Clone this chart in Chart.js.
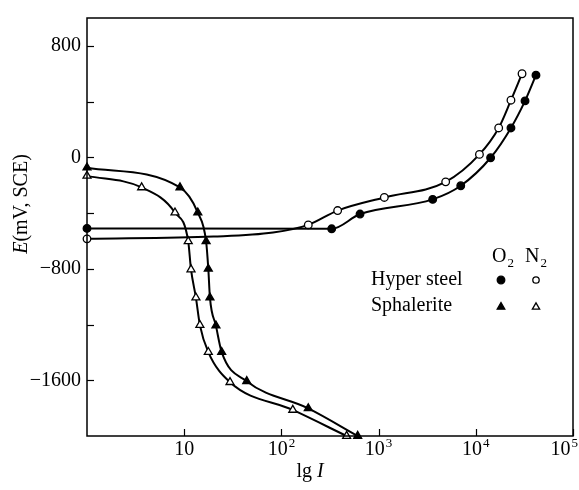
<!DOCTYPE html>
<html>
<head>
<meta charset="utf-8">
<script src="https://cdn.jsdelivr.net/npm/chart.js@4.4.1/dist/chart.umd.min.js"></script>
<style>
html,body{margin:0;padding:0;background:#fff;}
</style>
</head>
<body>
<canvas id="c" width="579" height="490"></canvas>
<script>
// axis ticks
const xTicks = [10, 100, 1000, 10000, 100000];
const yTicks = [-1600, -1200, -800, -400, 0, 400, 800];
const yLabelled = [-1600, -800, 0, 800];

// Hyper steel, O2 (filled circles)
const hyperO2I = [1, 329, 644, 3600, 7000, 14200, 23000, 32100, 41600];
const hyperO2E = [-510, -513, -407, -302, -204, -3, 211, 405, 590];

// Hyper steel, N2 (open circles); 0 = curve reading without a marker
const hyperN2I = [1, 20, 82, 189, 379, 1145, 4900, 10900, 17200, 23000, 29900];
const hyperN2E = [-585, -569, -540, -485, -382, -288, -176, 21, 211, 410, 600];
const hyperN2Measured = [1, 0, 0, 1, 1, 1, 1, 1, 1, 1, 1];

// Sphalerite, O2 (filled triangles)
const sphalO2I = [1, 9.05, 13.8, 16.8, 17.7, 18.4, 21.2, 24.3, 44, 189, 609];
const sphalO2E = [-74, -216, -397, -603, -800, -1007, -1208, -1398, -1607, -1802, -2000];

// Sphalerite, N2 (open triangles)
const sphalN2I = [1, 3.65, 8.04, 11.0, 11.75, 13.2, 14.5, 17.7, 29.6, 131, 469];
const sphalN2E = [-133, -216, -397, -603, -805, -1007, -1204, -1398, -1614, -1813, -2000];

const SERIF = '"Liberation Serif", "DejaVu Serif", serif';

function toPoints(xs, ys){
  return xs.map((x, i) => ({ x, y: ys[i] }));
}

function makeSet(label, xs, ys, style, filled, measured){
  const r = style === 'triangle' ? 4.6 : 3.8;
  return {
    label,
    data: toPoints(xs, ys),
    borderColor: '#000',
    borderWidth: 2,
    cubicInterpolationMode: 'monotone',
    pointStyle: style,
    pointRadius: ctx => (!measured || measured[ctx.dataIndex]) ? r : 0,
    pointBorderWidth: 1.3,
    pointBorderColor: '#000',
    pointBackgroundColor: filled ? '#000' : '#fff',
    clip: false
  };
}

function minus(v){
  return v < 0 ? '\u2212' + Math.abs(v) : String(v);
}

// frame, inner ticks, x labels with exponents, axis titles, legend
const decor = {
  id: 'decor',
  afterDraw(chart){
    const { ctx, chartArea: a, scales } = chart;
    const xs = scales.x, ys = scales.y;
    ctx.save();
    ctx.strokeStyle = '#000';
    ctx.fillStyle = '#000';
    ctx.lineWidth = 1.5;
    ctx.strokeRect(a.left, a.top, a.right - a.left, a.bottom - a.top);

    ctx.lineWidth = 1.2;
    yTicks.forEach(v => {
      const py = Math.round(ys.getPixelForValue(v)) + 0.5;
      ctx.beginPath(); ctx.moveTo(a.left, py); ctx.lineTo(a.left + 7, py); ctx.stroke();
    });
    xTicks.forEach(v => {
      const px = Math.round(xs.getPixelForValue(v)) + 0.5;
      ctx.beginPath(); ctx.moveTo(px, a.bottom); ctx.lineTo(px, a.bottom - 7); ctx.stroke();
    });

    // x tick labels: 10, 10^2 ...
    ctx.textBaseline = 'alphabetic';
    ctx.textAlign = 'left';
    xTicks.forEach(v => {
      const e = Math.round(Math.log10(v));
      const base = '10', sup = e === 1 ? '' : String(e);
      ctx.font = '20px ' + SERIF;
      const wb = ctx.measureText(base).width;
      ctx.font = '13px ' + SERIF;
      const ws = sup ? ctx.measureText(sup).width + 1 : 0;
      let x0 = xs.getPixelForValue(v) - (wb + ws) / 2;
      if (x0 + wb + ws > chart.width - 1) x0 = chart.width - 1 - wb - ws;
      ctx.font = '20px ' + SERIF;
      ctx.fillText(base, x0, 455);
      if (sup){
        ctx.font = '13px ' + SERIF;
        ctx.fillText(sup, x0 + wb + 1, 447);
      }
    });

    // x title: lg I
    ctx.font = '20px ' + SERIF;
    const w1 = ctx.measureText('lg ').width;
    ctx.font = 'italic 20px ' + SERIF;
    const w2 = ctx.measureText('I').width;
    let tx = 310 - (w1 + w2) / 2;
    ctx.font = '20px ' + SERIF;
    ctx.fillText('lg ', tx, 477);
    ctx.font = 'italic 20px ' + SERIF;
    ctx.fillText('I', tx + w1, 477);

    // y title: E(mV, SCE)
    ctx.save();
    ctx.translate(27, 204);
    ctx.rotate(-Math.PI / 2);
    ctx.font = 'italic 20px ' + SERIF;
    const we = ctx.measureText('E').width;
    ctx.font = '20px ' + SERIF;
    const wr = ctx.measureText('(mV, SCE)').width;
    const sx = -(we + wr) / 2;
    ctx.font = 'italic 20px ' + SERIF;
    ctx.fillText('E', sx, 0);
    ctx.font = '20px ' + SERIF;
    ctx.fillText('(mV, SCE)', sx + we, 0);
    ctx.restore();

    // legend
    ctx.font = '20px ' + SERIF;
    ctx.fillText('O', 492, 262);
    ctx.fillText('N', 525, 262);
    ctx.font = '13px ' + SERIF;
    ctx.fillText('2', 492 + ctx.measureText('O').width * 20 / 13 + 1, 267);
    ctx.fillText('2', 525 + ctx.measureText('N').width * 20 / 13 + 1, 267);
    ctx.font = '20px ' + SERIF;
    ctx.fillText('Hyper steel', 371, 285);
    ctx.fillText('Sphalerite', 371, 311);

    const mk = (style, r, filled, x, y) => {
      ctx.fillStyle = filled ? '#000' : '#fff';
      ctx.strokeStyle = '#000';
      ctx.lineWidth = 1.3;
      Chart.helpers.drawPoint(ctx, { pointStyle: style, radius: r, borderWidth: 1.3, rotation: 0 }, x, y);
    };
    mk('circle', 3.8, true, 501, 280);
    mk('circle', 3.2, false, 536, 280);
    mk('triangle', 4.4, true, 501, 307);
    mk('triangle', 4.2, false, 536, 307);
    ctx.restore();
  }
};

new Chart(document.getElementById('c'), {
  type: 'line',
  data: {
    datasets: [
      makeSet('Hyper steel O2', hyperO2I, hyperO2E, 'circle', true),
      makeSet('Hyper steel N2', hyperN2I, hyperN2E, 'circle', false, hyperN2Measured),
      makeSet('Sphalerite O2', sphalO2I, sphalO2E, 'triangle', true),
      makeSet('Sphalerite N2', sphalN2I, sphalN2E, 'triangle', false)
    ]
  },
  options: {
    responsive: false,
    animation: false,
    events: [],
    layout: { padding: { left: 0, right: 6, top: 13, bottom: 0 } },
    plugins: { legend: { display: false }, tooltip: { enabled: false } },
    scales: {
      x: {
        type: 'logarithmic',
        min: 1, max: 100000,
        grid: { display: false },
        border: { display: false },
        ticks: { display: false },
        afterFit(s){ s.height = 54; }
      },
      y: {
        type: 'linear',
        min: -2000, max: 1000,
        grid: { display: false, drawTicks: false },
        border: { display: false },
        ticks: {
          stepSize: 400,
          padding: 6,
          color: '#000',
          font: { family: SERIF, size: 20 },
          callback: v => yLabelled.includes(v) ? minus(v) : ''
        },
        afterFit(s){ s.width = 87; }
      }
    }
  },
  plugins: [decor]
});
</script>
</body>
</html>
